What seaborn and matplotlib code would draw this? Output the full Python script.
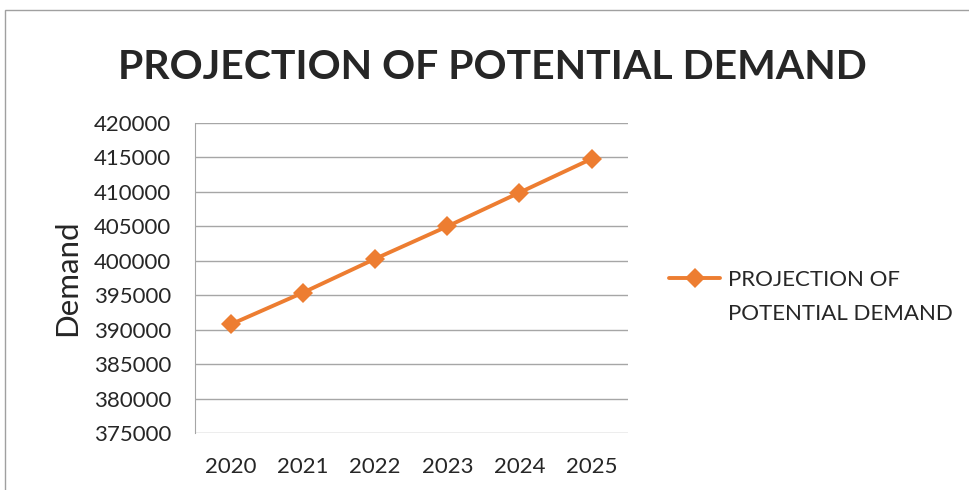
import pandas as pd
import seaborn as sns
import matplotlib.pyplot as plt
from matplotlib.patches import Rectangle
from matplotlib.lines import Line2D

years = ['2020', '2021', '2022', '2023', '2024', '2025']
demand = [390800, 395400, 400300, 405000, 409900, 414800]
series_lines = ['PROJECTION OF', 'POTENTIAL DEMAND']

sns.set_style("white")
plt.rcParams['font.family'] = ['Lato', 'DejaVu Sans']


def main():
	df = pd.DataFrame({'year': years, 'demand': demand})

	fig = plt.figure(figsize=(9.7, 4.9), dpi=100)
	ax = fig.add_axes([0.201, 0.116, 0.446, 0.633])

	sns.lineplot(x='year', y='demand', data=df, ax=ax, color='#ED7D31',
		linewidth=2.8, marker='D', markersize=10, markeredgewidth=0,
		label=series_lines[0], sort=False)

	ax.set_xlim(-0.5, 5.5)
	ax.set_ylim(375000, 420000)
	ax.set_yticks(range(375000, 420001, 5000))
	ax.grid(axis='y', color='#a6a6a6', linewidth=1)
	ax.set_axisbelow(True)
	for s in ['top', 'right', 'bottom']:
		ax.spines[s].set_visible(False)
	ax.spines['left'].set_color('#a6a6a6')
	ax.tick_params(axis='both', length=0, labelsize=16)
	ax.tick_params(axis='y', pad=17)
	ax.tick_params(axis='x', pad=17)

	ax.set_xlabel('')
	ax.set_ylabel('Demand', fontsize=22.5, labelpad=9)

	fig.text(0.508, 0.862, 'PROJECTION OF POTENTIAL DEMAND', ha='center', va='center',
		fontsize=29.5, fontweight='bold')

	# series name wraps onto a second row under the marker line
	line = ax.get_lines()[0]
	blank = Line2D([], [], linestyle='none')
	ax.legend(handles=[line, blank], labels=series_lines, loc='center left',
		bbox_to_anchor=(1.05, 0.44), frameon=False, fontsize=16,
		handlelength=2.3, handletextpad=0.35, labelspacing=0.62)

	fig.patches.append(Rectangle((0.005, -0.1), 1.2, 1.08, transform=fig.transFigure,
		fill=False, edgecolor='#a0a0a0', linewidth=1))

	plt.savefig('out.png', dpi=100)


if __name__ == '__main__':
	main()
